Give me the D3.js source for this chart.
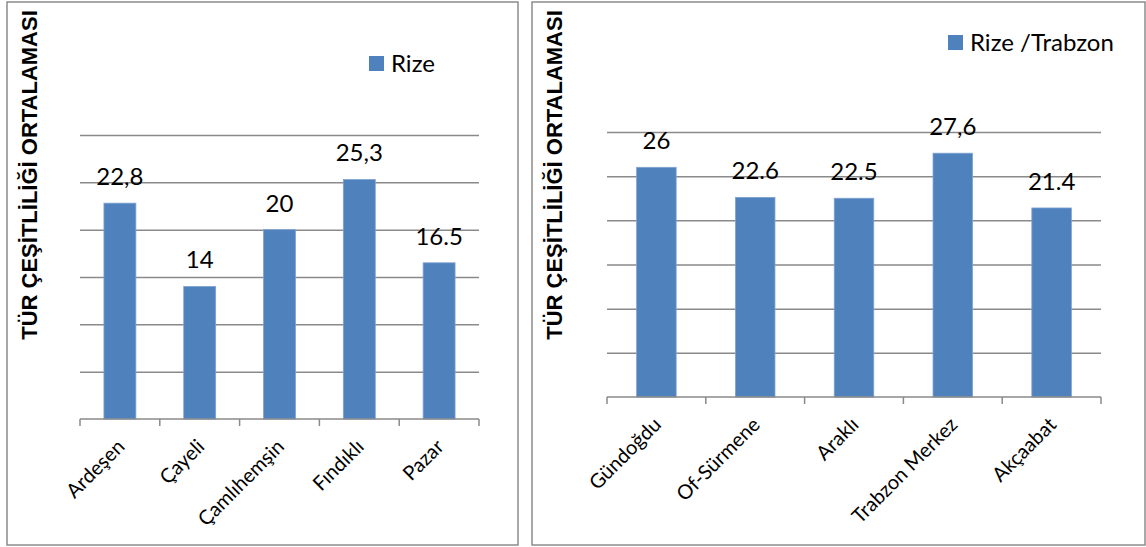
<!DOCTYPE html>
<html>
<head>
<meta charset="utf-8">
<script src="https://cdn.jsdelivr.net/npm/d3@7"></script>
<style>
  body { margin: 0; background: #fff; }
  svg { display: block; }
</style>
</head>
<body>
<svg id="chart" width="1146" height="547"></svg>
<script>
// Rize districts
const rizeDistricts = ["Ardeşen", "Çayeli", "Çamlıhemşin", "Fındıklı", "Pazar"];
const rizeValues = [22.8, 14, 20, 25.3, 16.5];
const rizeLabels = ["22,8", "14", "20", "25,3", "16.5"];
const rizeLegend = "Rize";

// Trabzon districts
const trabzonDistricts = ["Gündoğdu", "Of-Sürmene", "Araklı", "Trabzon Merkez", "Akçaabat"];
const trabzonValues = [26, 22.6, 22.5, 27.6, 21.4];
const trabzonLabels = ["26", "22.6", "22.5", "27,6", "21.4"];
const trabzonLegend = "Rize /Trabzon";

// Shared value axis (gridlines only, no tick text)
const yTicks = [0, 5, 10, 15, 20, 25, 30];
const yTitle = "TÜR ÇEŞİTLİLİĞİ ORTALAMASI";

const BAR = "#4F81BD";
const GRID = "#8a8a8a";
const FONT = "Lato, 'Open Sans', sans-serif";

const svg = d3.select("#chart");

const panels = [
  {
    names: rizeDistricts, values: rizeValues, labels: rizeLabels, legend: rizeLegend,
    frame: { x: 7, y: 2, w: 511, h: 543 },
    plot: { x0: 80, x1: 479, top: 135, base: 419 },
    legendPos: { x: 369, y: 56 },
    titleX: 37
  },
  {
    names: trabzonDistricts, values: trabzonValues, labels: trabzonLabels, legend: trabzonLegend,
    frame: { x: 532, y: 2, w: 613, h: 543 },
    plot: { x0: 607, x1: 1101, top: 132, base: 397 },
    legendPos: { x: 948, y: 35 },
    titleX: 562
  }
];

panels.forEach(p => {
  const g = svg.append("g");

  // outer border of the panel
  g.append("rect")
    .attr("x", p.frame.x).attr("y", p.frame.y)
    .attr("width", p.frame.w).attr("height", p.frame.h)
    .attr("fill", "#fff")
    .attr("stroke", "#8c8c8c").attr("stroke-width", 1.5);

  const y = d3.scaleLinear()
    .domain([0, d3.max(yTicks)])
    .range([p.plot.base, p.plot.top]);

  const x = d3.scaleBand()
    .domain(p.names)
    .range([p.plot.x0, p.plot.x1])
    .paddingInner(0.6)
    .paddingOuter(0.3);

  // horizontal gridlines
  const grid = g.append("g")
    .attr("transform", `translate(${p.plot.x0},0)`)
    .call(d3.axisLeft(y)
      .tickValues(yTicks.filter(v => v > 0))
      .tickSize(-(p.plot.x1 - p.plot.x0))
      .tickFormat(""));
  grid.select(".domain").remove();
  grid.selectAll(".tick line").attr("stroke", GRID).attr("stroke-width", 1.5);

  // bars
  g.selectAll("rect.bar")
    .data(p.values)
    .join("rect")
    .attr("class", "bar")
    .attr("x", (d, i) => x(p.names[i]))
    .attr("y", d => y(d))
    .attr("width", x.bandwidth())
    .attr("height", d => y(0) - y(d))
    .attr("fill", BAR)
    .attr("stroke", "#7ea2d2")
    .attr("stroke-width", 0.8);

  // category axis: baseline and boundary ticks
  const bounds = d3.range(p.names.length + 1).map(i => p.plot.x0 + i * x.step());
  g.append("line")
    .attr("x1", p.plot.x0).attr("x2", p.plot.x1)
    .attr("y1", y(0)).attr("y2", y(0))
    .attr("stroke", GRID).attr("stroke-width", 1.5);
  g.selectAll("line.tk")
    .data(bounds)
    .join("line")
    .attr("class", "tk")
    .attr("x1", d => d).attr("x2", d => d)
    .attr("y1", y(0)).attr("y2", y(0) + 7)
    .attr("stroke", GRID).attr("stroke-width", 1.5);

  // rotated category labels
  g.selectAll("text.cat")
    .data(p.names)
    .join("text")
    .attr("class", "cat")
    .attr("transform", d => `translate(${x(d) + x.bandwidth() / 2 + 1},${y(0) + 24}) rotate(-45)`)
    .attr("text-anchor", "end")
    .attr("dy", "0.35em")
    .attr("font-family", FONT)
    .attr("font-size", 20)
    .attr("fill", "#000")
    .text(d => d);

  // value labels above bars
  g.selectAll("text.val")
    .data(p.values)
    .join("text")
    .attr("class", "val")
    .attr("x", (d, i) => x(p.names[i]) + x.bandwidth() / 2)
    .attr("y", d => y(d) - 18)
    .attr("text-anchor", "middle")
    .attr("font-family", FONT)
    .attr("font-size", 24)
    .attr("fill", "#000")
    .text((d, i) => p.labels[i]);

  // legend
  g.append("rect")
    .attr("x", p.legendPos.x).attr("y", p.legendPos.y)
    .attr("width", 15).attr("height", 15)
    .attr("fill", BAR);
  g.append("text")
    .attr("x", p.legendPos.x + 22)
    .attr("y", p.legendPos.y + 16)
    .attr("font-family", FONT)
    .attr("font-size", 24)
    .attr("fill", "#000")
    .text(p.legend);

  // value axis title
  g.append("text")
    .attr("transform", `translate(${p.titleX},175) rotate(-90)`)
    .attr("text-anchor", "middle")
    .attr("font-family", "'Liberation Sans', Arial, sans-serif")
    .attr("font-weight", "bold")
    .attr("font-size", 22)
    .attr("fill", "#000")
    .text(yTitle);
});
</script>
</body>
</html>
